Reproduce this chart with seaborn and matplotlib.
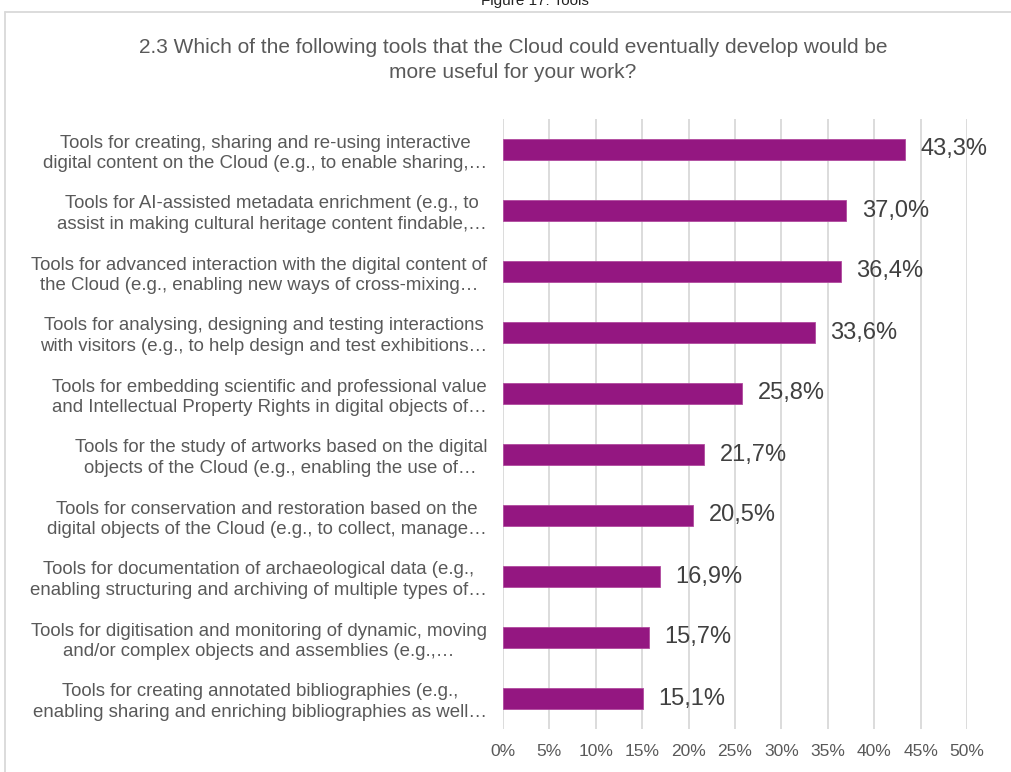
import matplotlib
matplotlib.use("Agg")
import matplotlib.pyplot as plt
from matplotlib.lines import Line2D
import seaborn as sns
import pandas as pd

# Survey answers: share of respondents choosing each tool
categories = [
    "Tools for creating, sharing and re-using interactive\ndigital content on the Cloud (e.g., to enable sharing,…",
    "Tools for AI-assisted metadata enrichment (e.g., to\nassist in making cultural heritage content findable,…",
    "Tools for advanced interaction with the digital content of\nthe Cloud (e.g., enabling new ways of cross-mixing…",
    "Tools for analysing, designing and testing interactions\nwith visitors (e.g., to help design and test exhibitions…",
    "Tools for embedding scientific and professional value\nand Intellectual Property Rights in digital objects of…",
    "Tools for the study of artworks based on the digital\nobjects of the Cloud (e.g., enabling the use of…",
    "Tools for conservation and restoration based on the\ndigital objects of the Cloud (e.g., to collect, manage…",
    "Tools for documentation of archaeological data (e.g.,\nenabling structuring and archiving of multiple types of…",
    "Tools for digitisation and monitoring of dynamic, moving\nand/or complex objects and assemblies (e.g.,…",
    "Tools for creating annotated bibliographies (e.g.,\nenabling sharing and enriching bibliographies as well…",
]
values = [43.3, 37.0, 36.4, 33.6, 25.8, 21.7, 20.5, 16.9, 15.7, 15.1]
x_ticks = [0, 5, 10, 15, 20, 25, 30, 35, 40, 45, 50]

title = ("2.3 Which of the following tools that the Cloud could eventually develop would be\n"
         "more useful for your work?")
caption = "Figure 17: Tools"

BAR = "#941781"
GRID = "#d9d9d9"
TEXT = "#595959"

sns.set_theme(style="white")
plt.rcParams["font.family"] = ["Liberation Sans", "DejaVu Sans"]

df = pd.DataFrame({"tool": categories, "share": values})

fig = plt.figure(figsize=(10.12, 7.72), dpi=100)
ax = fig.add_axes([503 / 1012, 1 - 729 / 772, 464 / 1012, 610 / 772])

sns.barplot(data=df, y="tool", x="share", orient="h", color=BAR, width=0.345,
            saturation=1, edgecolor="#b04a9e", linewidth=0.6, ax=ax)

ax.set_xlim(0, 50)
ax.set_ylim(len(categories) - 0.5, -0.5)
ax.set_xticks(x_ticks)
ax.set_xticklabels([f"{t}%" for t in x_ticks])
ax.set_xlabel("")
ax.set_ylabel("")
ax.grid(axis="x", color=GRID, linewidth=1.3)
ax.set_axisbelow(True)
for s in ax.spines.values():
    s.set_visible(False)

ax.tick_params(axis="x", length=0, pad=11, labelsize=12.5, labelcolor=TEXT)
ax.tick_params(axis="y", length=0, pad=11.5, labelsize=13.4, labelcolor=TEXT)
for lab in ax.get_yticklabels():
    lab.set_multialignment("center")
    lab.set_linespacing(1.3)

ax.bar_label(ax.containers[0],
             labels=[f"{v:.1f}%".replace(".", ",") for v in values],
             padding=11, fontsize=17, color="#404040")

fig.text(513 / 1012, 1 - 60 / 772, title, ha="center", va="center",
         fontsize=15, color=TEXT, linespacing=1.45)
fig.text(535 / 1012, 1 - 1 / 772, caption, ha="center", va="center",
         fontsize=11, color="#222222")

# Chart frame (top and left edges)
fig.add_artist(Line2D([5 / 1012, 1.0], [1 - 11.5 / 772, 1 - 11.5 / 772],
                      transform=fig.transFigure, color=GRID, linewidth=1.3))
fig.add_artist(Line2D([5 / 1012, 5 / 1012], [0.0, 1 - 11.5 / 772],
                      transform=fig.transFigure, color=GRID, linewidth=1.3))

fig.savefig("out.png", dpi=100)
